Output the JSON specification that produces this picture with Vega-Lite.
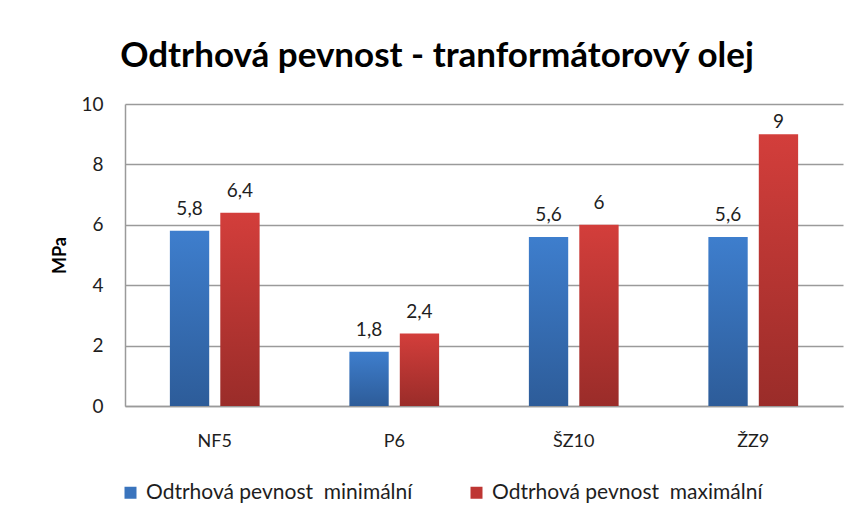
{
  "$schema": "https://vega.github.io/schema/vega-lite/v6.json",
  "width": 718,
  "height": 302,
  "autosize": "none",
  "padding": {"left": 125, "top": 104, "right": 13, "bottom": 112},
  "background": "white",
  "config": {
    "locale": {"number": {"decimal": ",", "thousands": "\u00a0", "grouping": [3], "currency": ["", "\u00a0Kč"]}},
    "view": {"stroke": null},
    "font": "Lato"
  },
  "title": {
    "text": "Odtrhová pevnost - tranformátorový olej",
    "fontSize": 35,
    "font": "Lato",
    "fontWeight": "bold",
    "color": "black",
    "anchor": "middle",
    "dx": -47,
    "offset": 21
  },
  "data": {
    "values": [
      {"vzorek": "NF5", "serie": "Odtrhová pevnost\u00a0 minimální", "hodnota": 5.8},
      {"vzorek": "NF5", "serie": "Odtrhová pevnost\u00a0 maximální", "hodnota": 6.4},
      {"vzorek": "P6", "serie": "Odtrhová pevnost\u00a0 minimální", "hodnota": 1.8},
      {"vzorek": "P6", "serie": "Odtrhová pevnost\u00a0 maximální", "hodnota": 2.4},
      {"vzorek": "ŠZ10", "serie": "Odtrhová pevnost\u00a0 minimální", "hodnota": 5.6},
      {"vzorek": "ŠZ10", "serie": "Odtrhová pevnost\u00a0 maximální", "hodnota": 6},
      {"vzorek": "ŽZ9", "serie": "Odtrhová pevnost\u00a0 minimální", "hodnota": 5.6},
      {"vzorek": "ŽZ9", "serie": "Odtrhová pevnost\u00a0 maximální", "hodnota": 9}
    ]
  },
  "encoding": {
    "x": {
      "field": "vzorek",
      "type": "nominal",
      "sort": null,
      "scale": {"paddingInner": 0.5, "paddingOuter": 0.25},
      "axis": {
        "title": null,
        "labelAngle": 0,
        "labelFontSize": 18,
        "labelColor": "#1e1e1e",
        "labelPadding": 26,
        "ticks": false,
        "domainColor": "#9a9a9a",
        "domainWidth": 1.5
      }
    },
    "xOffset": {
      "field": "serie",
      "type": "nominal",
      "sort": null,
      "scale": {"domain": ["Odtrhová pevnost\u00a0 minimální", "Odtrhová pevnost\u00a0 maximální"], "paddingInner": 0.22, "paddingOuter": 0}
    },
    "y": {
      "field": "hodnota",
      "type": "quantitative",
      "scale": {"domain": [0, 10]},
      "axis": {
        "title": "MPa",
        "titleFontSize": 18,
        "titleFontWeight": "bold",
        "titleColor": "black",
        "titlePadding": 11,
        "labelFontSize": 19,
        "labelColor": "#1e1e1e",
        "labelPadding": 22,
        "ticks": false,
        "values": [0, 2, 4, 6, 8, 10],
        "domainColor": "#9a9a9a",
        "domainWidth": 1.5,
        "gridColor": "#9a9a9a",
        "gridWidth": 1.5
      }
    }
  },
  "layer": [
    {
      "transform": [{"filter": "indexof(datum.serie, 'minimální') >= 0"}],
      "mark": {
        "type": "bar",
        "color": {"gradient": "linear", "x1": 0, "y1": 0, "x2": 0, "y2": 1, "stops": [{"offset": 0, "color": "#3e7ecd"}, {"offset": 1, "color": "#2d5c99"}]}
      }
    },
    {
      "transform": [{"filter": "indexof(datum.serie, 'maximální') >= 0"}],
      "mark": {
        "type": "bar",
        "color": {"gradient": "linear", "x1": 0, "y1": 0, "x2": 0, "y2": 1, "stops": [{"offset": 0, "color": "#d33e3b"}, {"offset": 1, "color": "#9a2c29"}]}
      }
    },
    {
      "mark": {"type": "square", "opacity": 0, "size": 0},
      "encoding": {
        "color": {
          "field": "serie",
          "type": "nominal",
          "sort": null,
          "scale": {"domain": ["Odtrhová pevnost\u00a0 minimální", "Odtrhová pevnost\u00a0 maximální"], "range": ["#3a74bd", "#be3633"]},
          "legend": {
            "title": null,
            "orient": "none",
            "legendX": -5,
            "legendY": 378,
            "direction": "horizontal",
            "columns": 2,
            "columnPadding": 53,
            "symbolType": "square",
            "symbolSize": 144,
            "symbolOpacity": 1,
            "symbolStrokeWidth": 0,
            "labelOffset": 5,
            "labelFontSize": 21,
            "labelFont": "Lato",
            "labelColor": "#1e1e1e",
            "labelLimit": 400
          }
        }
      }
    },
    {
      "transform": [{"calculate": "min(datum.hodnota, 8.68)", "as": "popisek_y"}],
      "mark": {"type": "text", "baseline": "alphabetic", "dy": -16, "fontSize": 19, "color": "#1e1e1e"},
      "encoding": {
        "y": {"field": "popisek_y", "type": "quantitative"},
        "text": {"field": "hodnota", "type": "quantitative", "format": "~g"}
      }
    }
  ]
}
